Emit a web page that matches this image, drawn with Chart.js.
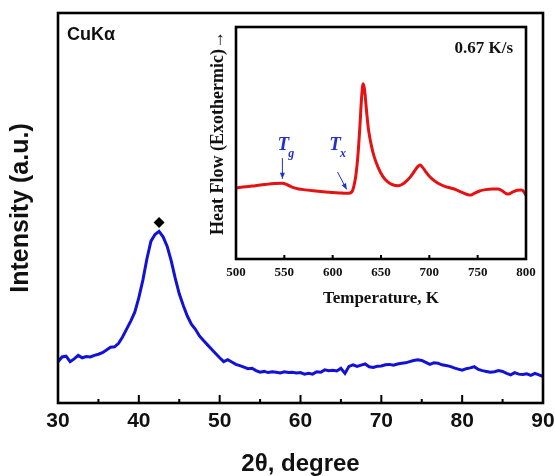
<!DOCTYPE html>
<html><head><meta charset="utf-8">
<script src="https://cdn.jsdelivr.net/npm/chart.js@4/dist/chart.umd.min.js"></script>
<style>
html,body{margin:0;padding:0;background:#fff;}
#wrap{position:relative;width:555px;height:476px;overflow:hidden;background:#fff;}
#main{position:absolute;left:0;top:0;}
#inset{position:absolute;left:190px;top:20px;}
</style></head><body>
<div id="wrap"><canvas id="main" width="555" height="476"></canvas><canvas id="inset" width="350" height="295"></canvas></div>
<script>
// ---------- XRD (main) ----------
const twoTheta = [30,30.5,31,31.5,32,32.5,33,33.5,34,34.5,35,35.5,36,36.5,37,37.5,38,38.5,39,39.5,
  40,40.5,41,41.5,42,42.5,43,43.5,44,44.5,45,45.5,46,46.5,47,47.5,48,48.5,49,49.5,
  50,50.5,51,51.5,52,52.5,53,53.5,54,54.5,55,55.5,56,56.5,57,57.5,58,58.5,59,59.5,
  60,60.5,61,61.5,62,62.5,63,63.5,64,64.5,65,65.5,66,66.5,67,67.5,68,68.5,69,69.5,
  70,70.5,71,71.5,72,72.5,73,73.5,74,74.5,75,75.5,76,76.5,77,77.5,78,78.5,79,79.5,
  80,80.5,81,81.5,82,82.5,83,83.5,84,84.5,85,85.5,86,86.5,87,87.5,88,88.5,89,89.5,90];
const intensity = [10.6,11.8,12.0,10.6,11.3,12.2,11.6,11.9,11.8,12.2,12.5,12.9,13.6,14.3,14.4,15.3,17.0,19.0,21.0,23.3,
  27.0,31.5,37.0,41.5,43.2,44.0,42.6,40.2,36.5,32.0,28.0,25.0,22.3,20.2,18.9,17.2,16.0,14.9,13.8,12.7,
  11.6,10.6,11.1,10.5,9.9,9.6,9.2,8.8,8.9,8.3,7.9,8.1,7.8,8.0,7.9,7.7,8.0,7.8,7.9,7.7,
  7.8,7.4,7.6,7.4,8.0,7.9,8.5,8.3,8.4,8.2,8.9,7.6,9.4,9.8,9.4,9.7,10.0,9.3,9.1,9.4,
  9.5,9.8,9.9,9.7,10.0,10.2,10.3,10.6,10.9,11.1,10.9,10.4,9.9,10.3,10.2,9.8,9.6,9.4,9.0,8.7,
  8.4,8.8,9.0,9.3,8.6,8.3,8.1,7.9,8.0,8.3,8.1,7.6,7.2,7.8,7.4,7.3,7.5,7.1,7.6,7.2,6.8];
const peakPos = [42.5];
const peakHeight = [46.3];
const xrdTicks = [30,40,50,60,70,80,90];

// ---------- DSC (inset) ----------
const temps = [500,510,520,530,540,548,553,558,565,572,580,590,600,610,616,620,622,624,626,628,
  630,631.5,633,635,637,640,643,647,652,657,662,668,672,676,680,684,688,690.5,693,696,
  700,705,711,716,721,728,735,740,743,746,752,758,765,771,775,779,782,786,791,795,798,800];
const heatFlow = [30.7,31.1,31.6,32.1,32.5,32.6,32.0,31.0,30.2,29.8,29.4,29.0,28.7,28.4,28.3,29.0,31.5,36.0,44.0,56.0,
  70.0,75.5,73.0,64.0,56.0,49.0,44.0,39.5,35.5,33.2,32.0,31.6,32.2,33.5,35.2,37.5,39.8,40.5,39.5,37.8,
  35.7,33.8,32.2,31.3,30.7,29.8,28.5,27.7,27.6,28.2,29.3,29.9,30.2,30.2,29.5,28.3,28.0,28.8,29.6,29.7,28.9,27.4];
const dscTicks = [500,550,600,650,700,750,800];

const SANS = "'Liberation Sans', Arial, sans-serif";
const SERIF = "'Liberation Serif', 'Times New Roman', serif";
Chart.defaults.font.family = SANS;
Chart.defaults.color = '#111';

function framePlugin(lw, majorLen, minorLen) {
  return {
    id: 'frame',
    afterDraw(chart) {
      const {ctx, chartArea: a, scales: {x}} = chart;
      ctx.save();
      ctx.strokeStyle = '#000';
      ctx.lineWidth = lw;
      ctx.strokeRect(a.left, a.top, a.right - a.left, a.bottom - a.top);
      ctx.lineWidth = 2;
      const vals = x.ticks.map(t => t.value);
      ctx.beginPath();
      vals.forEach(v => { const p = x.getPixelForValue(v); ctx.moveTo(p, a.bottom); ctx.lineTo(p, a.bottom - majorLen); });
      if (minorLen > 0) {
        for (let i = 0; i < vals.length - 1; i++) {
          const p = x.getPixelForValue((vals[i] + vals[i + 1]) / 2);
          ctx.moveTo(p, a.bottom); ctx.lineTo(p, a.bottom - minorLen);
        }
      }
      ctx.stroke();
      ctx.restore();
    }
  };
}

const mainText = {
  id: 'mainText',
  afterDraw(chart) {
    const {ctx, chartArea: a} = chart;
    ctx.save();
    ctx.fillStyle = '#111';
    ctx.font = "bold 18px " + SANS;
    ctx.textBaseline = 'middle';
    ctx.textAlign = 'left';
    ctx.fillText('CuKα', a.left + 9, a.top + 22);
    ctx.restore();
  }
};

new Chart(document.getElementById('main'), {
  type: 'line',
  data: { datasets: [
    { data: twoTheta.map((x, i) => ({x, y: intensity[i]})), borderColor: '#1212d4', borderWidth: 3,
      pointRadius: 0, tension: 0, fill: false },
    { data: peakPos.map((x, i) => ({x, y: peakHeight[i]})), showLine: false, pointStyle: 'rectRot',
      pointRadius: 5.5, backgroundColor: '#000', borderColor: '#000', borderWidth: 0 }
  ]},
  options: {
    responsive: false, animation: false, events: [],
    layout: { padding: { top: 13, right: 12, left: 0, bottom: 0 } },
    plugins: { legend: { display: false }, tooltip: { enabled: false } },
    scales: {
      x: { type: 'linear', min: 30, max: 90,
        afterBuildTicks: s => { s.ticks = xrdTicks.map(v => ({value: v})); },
        afterFit: s => { s.height = 73; s.paddingLeft = 0; s.paddingRight = 0; },
        grid: { display: false, drawTicks: false }, border: { display: false },
        ticks: { padding: 6, font: { size: 21, weight: 'bold' }, color: '#111', maxRotation: 0, autoSkip: false },
        title: { display: true, text: '2θ, degree', font: { size: 24, weight: 'bold', lineHeight: 1 }, color: '#111', padding: { top: 0, bottom: 0 } } },
      y: { min: 0, max: 100,
        afterFit: s => { s.width = 58; },
        grid: { display: false, drawTicks: false }, border: { display: false }, ticks: { display: false },
        title: { display: true, text: 'Intensity (a.u.)', font: { size: 25, weight: 'bold', lineHeight: 1.1 }, color: '#111', padding: { top: 7, bottom: 0 } } }
    }
  },
  plugins: [framePlugin(2.6, 8, 4), mainText]
});

const insetText = {
  id: 'insetText',
  afterDraw(chart) {
    const {ctx, chartArea: a, scales: {x, y}} = chart;
    const blue = '#2230d0';
    ctx.save();
    // y title
    ctx.fillStyle = '#111';
    ctx.font = "bold 18px " + SERIF;
    ctx.textAlign = 'center'; ctx.textBaseline = 'middle';
    ctx.save();
    ctx.translate(28, a.top + (a.bottom - a.top) / 2 - 10);
    ctx.rotate(-Math.PI / 2);
    ctx.fillText('Heat Flow (Exothermic)→', 0, 0);
    ctx.restore();
    // rate label
    ctx.font = "bold 17px " + SERIF;
    ctx.textAlign = 'right';
    ctx.fillText('0.67 K/s', a.right - 13, a.top + 22);
    // Tg / Tx labels
    function label(tv, hv, sub) {
      const px = x.getPixelForValue(tv), py = y.getPixelForValue(hv);
      ctx.fillStyle = blue;
      ctx.textAlign = 'center';
      ctx.font = "italic bold 19px " + SERIF;
      ctx.fillText('T', px, py);
      ctx.font = "italic bold 12px " + SERIF;
      ctx.fillText(sub, px + 8, py + 9);
    }
    function arrow(t1, h1, t2, h2) {
      const x1 = x.getPixelForValue(t1), y1 = y.getPixelForValue(h1);
      const x2 = x.getPixelForValue(t2), y2 = y.getPixelForValue(h2);
      ctx.strokeStyle = blue; ctx.fillStyle = blue; ctx.lineWidth = 1;
      ctx.beginPath(); ctx.moveTo(x1, y1); ctx.lineTo(x2, y2); ctx.stroke();
      const ang = Math.atan2(y2 - y1, x2 - x1), L = 6, W = 2.5;
      ctx.beginPath();
      ctx.moveTo(x2, y2);
      ctx.lineTo(x2 - L * Math.cos(ang) + W * Math.sin(ang), y2 - L * Math.sin(ang) - W * Math.cos(ang));
      ctx.lineTo(x2 - L * Math.cos(ang) - W * Math.sin(ang), y2 - L * Math.sin(ang) + W * Math.cos(ang));
      ctx.closePath(); ctx.fill();
    }
    label(549, 49, 'g');
    label(602.5, 49, 'x');
    arrow(548, 43.5, 548, 34.6);
    arrow(605, 37.5, 614.5, 30.0);
    ctx.restore();
  }
};

new Chart(document.getElementById('inset'), {
  type: 'line',
  data: { datasets: [
    { data: temps.map((x, i) => ({x, y: heatFlow[i]})), borderColor: '#e41212', borderWidth: 3,
      pointRadius: 0, tension: 0.4, cubicInterpolationMode: 'monotone', fill: false }
  ]},
  options: {
    responsive: false, animation: false, events: [],
    layout: { padding: { top: 7, right: 14, left: 0, bottom: 0 } },
    plugins: { legend: { display: false }, tooltip: { enabled: false } },
    scales: {
      x: { type: 'linear', min: 500, max: 800,
        afterBuildTicks: s => { s.ticks = dscTicks.map(v => ({value: v})); },
        afterFit: s => { s.height = 56; s.paddingLeft = 0; s.paddingRight = 0; },
        grid: { display: false, drawTicks: false }, border: { display: false },
        ticks: { padding: 6, font: { family: SERIF, size: 13, weight: 'bold' }, color: '#111', maxRotation: 0, autoSkip: false },
        title: { display: true, text: 'Temperature, K', font: { family: SERIF, size: 17, weight: 'bold' }, color: '#111', padding: { top: 0, bottom: 6 } } },
      y: { min: 0, max: 100,
        afterFit: s => { s.width = 46; },
        grid: { display: false, drawTicks: false }, border: { display: false }, ticks: { display: false },
        title: { display: false } }
    }
  },
  plugins: [framePlugin(2.6, 4, 0), insetText]
});
</script>
</body></html>
